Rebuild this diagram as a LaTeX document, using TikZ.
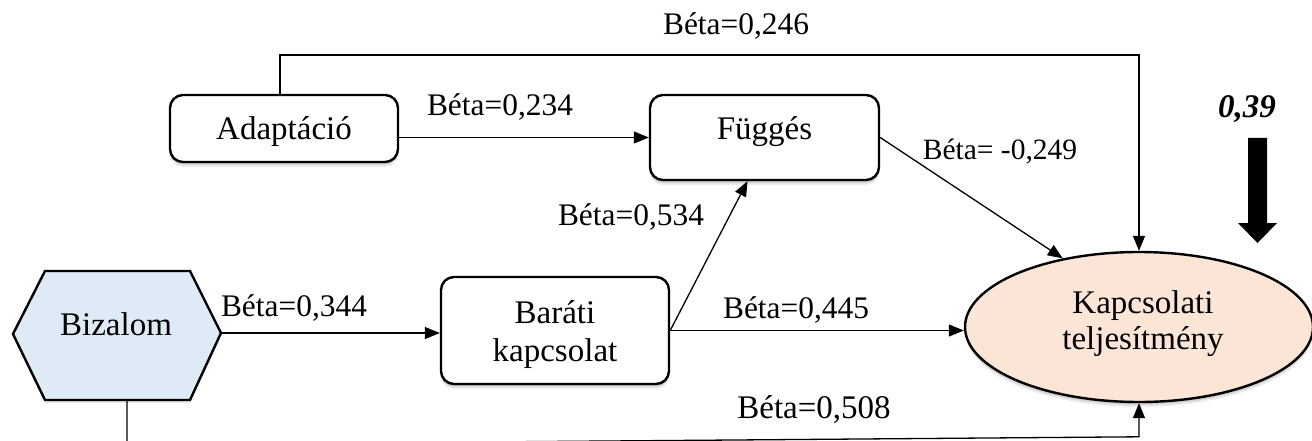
\documentclass[tikz,border=0pt]{standalone}
\usepackage{fontspec}
\setmainfont{Liberation Serif}
\usetikzlibrary{arrows.meta,shapes.geometric,shadows}
\definecolor{trustblue}{HTML}{DEEAF6}
\definecolor{perfpeach}{HTML}{FBE5D6}
\tikzset{
  softshadow/.style={
    general shadow={fill=black,opacity=0.08,shadow yshift=-5pt,shadow xshift=0pt},
    general shadow={fill=black,opacity=0.10,shadow yshift=-3pt,shadow xshift=0pt},
    general shadow={fill=black,opacity=0.12,shadow yshift=-1.5pt,shadow xshift=0pt}},
  stepbox/.style={draw, line width=2.4pt, rounded corners=13pt, fill=white,
    inner sep=0pt, softshadow},
  targetshape/.style={ellipse, draw, line width=2.4pt, fill=perfpeach,
    inner sep=0pt, softshadow},
  conn/.style={line width=1.3pt, -{Triangle[length=15pt,width=12pt]}},
  txt/.style={font=\fontsize{31.4}{37}\selectfont, anchor=base, inner sep=0pt},
  shapetxt/.style={font=\fontsize{33}{39}\selectfont, anchor=base, inner sep=0pt},
  smalltxt/.style={font=\fontsize{29.5}{35}\selectfont, anchor=base, inner sep=0pt},
  largetxt/.style={font=\fontsize{33}{39}\selectfont, anchor=base, inner sep=0pt},
}
\begin{document}
\begin{tikzpicture}[x=1pt,y=-1pt]
  \useasboundingbox (0,0) rectangle (1312,441);

  % boxes
  \node[stepbox, minimum width=228, minimum height=67] (adapt) at (284,128.5) {};
  \node[stepbox, minimum width=229, minimum height=85] (fugg) at (764.5,137.5) {};
  \node[stepbox, minimum width=228, minimum height=107] (barat) at (555,330.5) {};
  \node[targetshape, minimum width=348, minimum height=150] (kap) at (1139,327) {};

  % hexagon
  \coordinate (hexW) at (13,334);
  \coordinate (hexE) at (221,333);
  \coordinate (hexS) at (127,400);
  \fill[black,opacity=0.10] (13,337) -- (45,274) -- (190,274) -- (221,336) -- (190,403) -- (45,403) -- cycle;
  \draw[line width=2.4pt, fill=trustblue, line join=miter]
    (hexW) -- (45,271) -- (190,271) -- (hexE) -- (190,400) -- (45,400) -- cycle;

  % texts in shapes
  \node[shapetxt] (tAdapt) at (284,140) {Adaptáció};
  \node[shapetxt] (tFugg) at (764.5,140) {Függés};
  \node[shapetxt] (tBarat1) at (555,323) {Baráti};
  \node[shapetxt] (tBarat2) at (555,361) {kapcsolat};
  \node[shapetxt] (tBiz) at (116,335) {Bizalom};
  \node[shapetxt] (tKap1) at (1143,313) {Kapcsolati};
  \node[shapetxt] (tKap2) at (1143,349) {teljesítmény};

  % connectors
  \coordinate (topline) at (0,55);
  \draw[conn] ([xshift=-4pt]adapt.north) |- (kap.north |- topline) -- (kap.north);
  \draw[conn] (adapt.east |- fugg.west) -- (fugg.west);
  \draw[conn] (fugg.east) -- (kap.138);
  \draw[conn] (barat.east) -- ([xshift=-17pt]fugg.south);
  \draw[conn] (barat.east) -- (kap.west |- barat.east);
  \draw[conn] (hexE) -- (barat.west |- hexE);
  % lower route runs along the bottom edge, rising slightly to the right
  \coordinate (lowbend) at (127,444.8);
  \coordinate (risebend) at (1139,436.8);
  \draw[conn] (hexS) -- (lowbend) -- (risebend) -- (kap.south);

  % coefficient labels
  \node[txt] (b246) at (736,35) {Béta=0,246};
  \node[txt] (b234) at (500,116) {Béta=0,234};
  \node[smalltxt] (b249) at (1000,160) {Béta= -0,249};
  \node[txt] (b534) at (631,225) {Béta=0,534};
  \node[txt] (b344) at (294,316) {Béta=0,344};
  \node[txt] (b445) at (796,318) {Béta=0,445};
  \node[largetxt] (b508) at (814,418) {Béta=0,508};

  % explained variance
  \node[largetxt, font=\fontsize{33}{39}\selectfont\bfseries\itshape] (r2) at (1247,118) {0,39};
  \fill[black] (1248,138) -- (1267,138) -- (1267,223) -- (1277,223) -- (1257.5,243)
    -- (1238,223) -- (1248,223) -- cycle;
\end{tikzpicture}
\end{document}
